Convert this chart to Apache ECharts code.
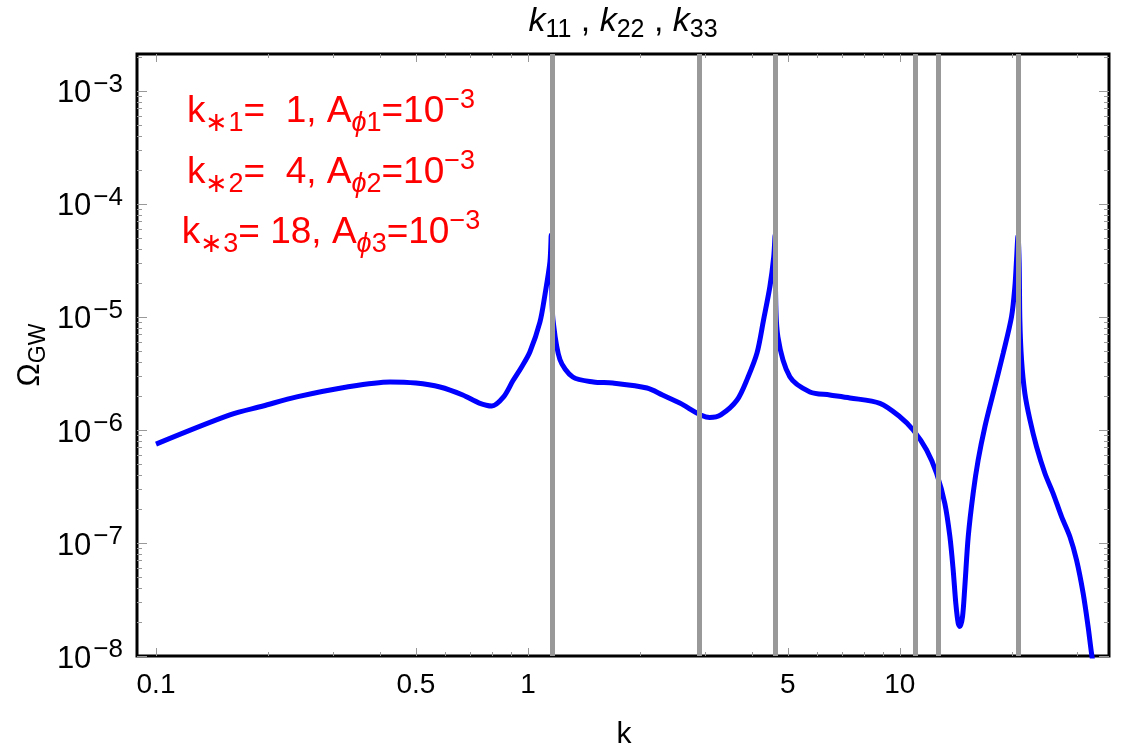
<!DOCTYPE html>
<html>
<head>
<meta charset="utf-8">
<script src="https://cdn.jsdelivr.net/npm/echarts@6/dist/echarts.min.js"></script>
<style>
html,body{margin:0;padding:0;background:#fff}
#chart{width:1125px;height:755px}
</style>
</head>
<body>
<div id="chart"></div>
<script>
// curve (k, Omega_GW)
var kValues = [0.1, 0.158, 0.194, 0.239, 0.326, 0.426, 0.5, 0.58, 0.668, 0.74, 0.8, 0.86, 0.911, 0.958,
  1.012, 1.077, 1.111, 1.146, 1.155, 1.16, 1.168, 1.219, 1.32, 1.5, 1.69, 2.09, 2.3, 2.56, 3.08, 3.3,
  3.65, 3.9, 4.13, 4.3, 4.47, 4.58, 4.619, 4.63, 4.7, 5.06, 5.73, 6.48, 7.34, 8.84, 10.0, 10.86, 11.8,
  12.55, 13.21, 13.63, 13.91, 14.14, 14.35, 14.5, 14.74, 14.95, 15.27, 15.74, 16.24, 16.93, 17.82, 18.96,
  19.96, 20.38, 20.59, 20.78, 20.93, 21.02, 21.24, 21.68, 22.37, 23.31, 24.54, 25.82, 27.21, 28.64,
  29.85, 31.1, 32.07, 32.75, 33.2];
var omegaValues = [7.5e-7, 1.36e-6, 1.63e-6, 1.96e-6, 2.4e-6, 2.66e-6, 2.6e-6, 2.4e-6, 2.04e-6, 1.73e-6, 1.63e-6, 1.96e-6, 2.72e-6, 3.54e-6,
  4.9e-6, 9e-6, 1.57e-5, 3.07e-5, 5.3e-5, 1.6e-5, 9.4e-6, 4.2e-6, 2.94e-6, 2.66e-6, 2.6e-6, 2.35e-6, 2.04e-6, 1.73e-6, 1.29e-6, 1.36e-6,
  1.84e-6, 2.9e-6, 4.8e-6, 9.4e-6, 1.84e-5, 3.4e-5, 5.3e-5, 1.8e-5, 6.65e-6, 2.95e-6, 2.17e-6, 2.04e-6, 1.92e-6, 1.72e-6, 1.31e-6, 1e-6, 6.65e-7,
  4.14e-7, 2.24e-7, 1.14e-7, 5.77e-8, 2.92e-8, 1.95e-8, 1.82e-8, 2.23e-8, 4.1e-8, 1.14e-7, 2.75e-7, 5.43e-7, 1.07e-6, 2.11e-6, 4.77e-6,
  1e-5, 1.85e-5, 3.19e-5, 5.2e-5, 2.99e-5, 9.4e-6, 4.16e-6, 2.11e-6, 1.23e-6, 7.1e-7, 4.14e-7, 2.75e-7, 1.71e-7, 1.14e-7,
  7.08e-8, 3.59e-8, 1.82e-8, 1.06e-8, 8e-9];

// gray vertical lines k11, k22, k33 and the mixed ones
var resonanceK = [1.155, 2.887, 4.619, 10.97, 12.70, 20.78];

var xLabelTicks = [0.1, 0.5, 1, 5, 10];
var xMinorTicks = [0.2, 0.3, 0.4, 0.6, 0.7, 0.8, 0.9, 2, 3, 4, 6, 7, 8, 9, 20, 30];
var yMajorTicks = [1e-8, 1e-7, 1e-6, 1e-5, 1e-4, 1e-3];
var yMinorSteps = [2, 3, 4, 5, 6, 7, 8, 9];

var X_MIN = 0.0889, X_MAX = 36.5, Y_MIN = 1e-8, Y_MAX = 2.12e-3;
var FONT = 'Liberation Sans, Arial, sans-serif';

var yMinorTicks = [];
yMajorTicks.forEach(function (d) {
  yMinorSteps.forEach(function (m) {
    var v = +(m * d).toPrecision(3);
    if (v < Y_MAX) yMinorTicks.push(v);
  });
});

var curve = kValues.map(function (k, i) { return [k, omegaValues[i]]; });

function xAx(pos, ticks, len, withLabels) {
  return {
    type: 'log', position: pos, min: X_MIN, max: X_MAX,
    axisLine: { show: false, onZero: false },
    splitLine: { show: false },
    axisTick: { show: true, inside: true, length: len, customValues: ticks, lineStyle: { color: '#999', width: 1 } },
    axisLabel: withLabels ? {
      show: true, customValues: ticks, margin: 15, color: '#000', fontSize: 28, fontFamily: FONT,
      formatter: function (v) { return String(+(+v).toPrecision(3)); }
    } : { show: false }
  };
}
function yAx(pos, ticks, len, withLabels) {
  return {
    type: 'log', position: pos, min: Y_MIN, max: Y_MAX,
    axisLine: { show: false, onZero: false },
    splitLine: { show: false },
    axisTick: { show: true, inside: true, length: len, customValues: ticks, lineStyle: { color: '#999', width: 1 } },
    axisLabel: withLabels ? {
      show: true, customValues: ticks, margin: 14, color: '#000',
      formatter: function (v) { return '{b|10}{s|\u2212' + Math.round(-Math.log10(v)) + '}'; },
      rich: {
        b: { fontSize: 31, fontFamily: FONT, color: '#000', lineHeight: 38, padding: [6, 2, 0, 0] },
        s: { fontSize: 26, fontFamily: FONT, color: '#000', lineHeight: 18, verticalAlign: 'top' }
      }
    } : { show: false }
  };
}

function redLine(a, b) {
  return '{t|k}{sub|\u2217' + a + '}{t|=' + b + ', A}{subi|\u03D5}{sub|' + a + '}{t|=10}{sup|\u22123}';
}
var redRich = {
  t: { fontSize: 37, fontFamily: FONT, fill: '#ff0000', lineHeight: 50 },
  sub: { fontSize: 27, fontFamily: FONT, fill: '#ff0000', lineHeight: 38, verticalAlign: 'bottom' },
  subi: { fontSize: 27, fontFamily: FONT, fontStyle: 'italic', fill: '#ff0000', lineHeight: 38, verticalAlign: 'bottom' },
  sup: { fontSize: 27, fontFamily: FONT, fill: '#ff0000', lineHeight: 18, verticalAlign: 'top' }
};

var chart = echarts.init(document.getElementById('chart'), null, { renderer: 'canvas' });
chart.setOption({
  animation: false,
  backgroundColor: '#fff',
  grid: { left: 137, right: 16, top: 54, bottom: 99, show: true, borderColor: '#000', borderWidth: 3, backgroundColor: 'transparent' },
  xAxis: [
    xAx('bottom', xLabelTicks, 8, true),
    xAx('bottom', xMinorTicks, 4, false),
    xAx('top', xLabelTicks, 8, false),
    xAx('top', xMinorTicks, 4, false)
  ],
  yAxis: [
    yAx('left', yMajorTicks, 10, true),
    yAx('left', yMinorTicks, 5, false),
    yAx('right', yMajorTicks, 10, false),
    yAx('right', yMinorTicks, 5, false)
  ],
  graphic: [
    {
      type: 'text', x: 623, y: 22, silent: true,
      style: {
        text: '{k|k}{s|11}{n| , }{k|k}{s|22}{n| , }{k|k}{s|33}',
        align: 'center', verticalAlign: 'middle',
        rich: {
          k: { fontSize: 34, fontFamily: FONT, fontStyle: 'italic', fill: '#000', lineHeight: 42 },
          s: { fontSize: 25, fontFamily: FONT, fill: '#000', lineHeight: 20, verticalAlign: 'bottom' },
          n: { fontSize: 34, fontFamily: FONT, fill: '#000', lineHeight: 42 }
        }
      }
    },
    { type: 'text', x: 331, y: 112, silent: true, style: { text: redLine('1', '  1'), align: 'center', verticalAlign: 'middle', rich: redRich } },
    { type: 'text', x: 331, y: 173, silent: true, style: { text: redLine('2', '  4'), align: 'center', verticalAlign: 'middle', rich: redRich } },
    { type: 'text', x: 331, y: 233, silent: true, style: { text: redLine('3', ' 18'), align: 'center', verticalAlign: 'middle', rich: redRich } },
    {
      type: 'text', x: 30, y: 355, rotation: Math.PI / 2, silent: true,
      style: {
        text: '{o|\u03A9}{g|GW}', align: 'center', verticalAlign: 'middle',
        rich: {
          o: { fontSize: 31, fontFamily: FONT, fill: '#000', lineHeight: 40 },
          g: { fontSize: 23, fontFamily: FONT, fill: '#000', lineHeight: 24, verticalAlign: 'bottom' }
        }
      }
    },
    {
      type: 'text', x: 624, y: 735, silent: true,
      style: { text: 'k', align: 'center', verticalAlign: 'middle', fontSize: 30, fontFamily: FONT, fill: '#000' }
    }
  ],
  series: [
    {
      name: 'resonances', type: 'line', data: [], z: 1, silent: true,
      markLine: {
        silent: true, symbol: ['none', 'none'], label: { show: false },
        lineStyle: { color: '#999999', width: 5, type: 'solid' },
        emphasis: { disabled: true },
        data: resonanceK.map(function (k) { return { xAxis: k }; })
      }
    },
    {
      name: 'OmegaGW', type: 'line', data: curve, z: 2,
      showSymbol: false, smooth: 0.3,
      lineStyle: { color: '#0000ff', width: 5 },
      clip: true
    }
  ]
});
</script>
</body>
</html>
